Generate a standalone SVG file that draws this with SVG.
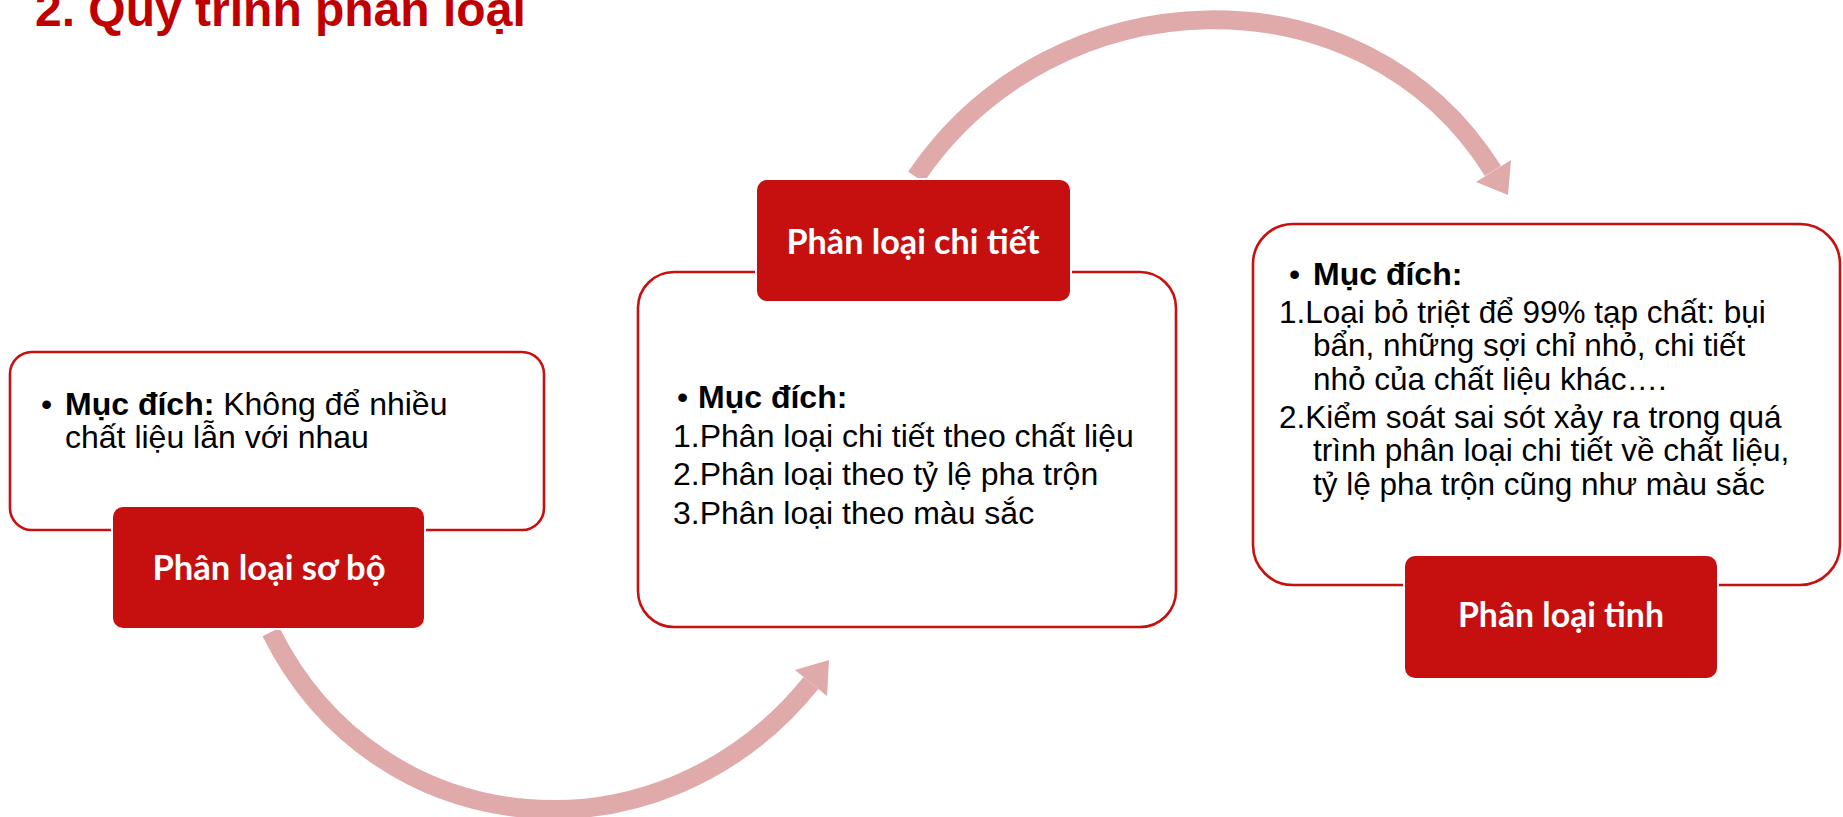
<svg xmlns="http://www.w3.org/2000/svg" width="1843" height="817" viewBox="0 0 1843 817">
<style>
.outline{fill:#FFFFFF;stroke:#C8100F;stroke-width:2.6}
.label{fill:#C5100F;stroke:#FFFFFF;stroke-width:4;paint-order:stroke fill}
.lbltxt{font-family:Lato,"Noto Sans","Liberation Sans",sans-serif;font-weight:700;font-size:35px;fill:#FFFFFF;text-anchor:middle}
.body{font-family:"Liberation Sans",Arial,sans-serif;font-size:32px;fill:#000000}
.sm{font-size:31.5px}
.b{font-weight:700}
.title{font-family:"Liberation Sans",Arial,sans-serif;font-weight:700;font-size:48px;fill:#C00000}
.arc{fill:none;stroke:#E0AAAA;stroke-width:19}
.head{fill:#E0AAAA}
</style>
<rect width="1843" height="817" fill="#FFFFFF"/>
<text class="title" x="35" y="26">2. Quy trình phân loại</text>
<g id="connectors">
<path class="arc" d="M271,632 C378,847 660,870 811,683"/>
<polygon class="head" points="829,660 795,670 827,696"/>
<path class="arc" d="M916,177 C1053,-26 1363,-37 1493,171"/>
<polygon class="head" points="1508,195 1476,182 1511,160"/>
</g>
<g id="node-so-bo">
<rect class="outline" x="10" y="352" width="534" height="178" rx="22"/>
<rect class="label" x="113" y="507" width="311" height="121" rx="10"/>
<text class="lbltxt" x="269" y="580" textLength="233" lengthAdjust="spacingAndGlyphs">Phân loại sơ bộ</text>
<text class="body" x="41" y="415">•</text>
<text class="body" x="65" y="415"><tspan class="b">Mục đích:</tspan> Không để nhiều</text>
<text class="body" x="65" y="448">chất liệu lẫn với nhau</text>
</g>
<g id="node-chi-tiet">
<rect class="outline" x="638" y="272" width="538" height="355" rx="36"/>
<rect class="label" x="757" y="180" width="313" height="121" rx="10"/>
<text class="lbltxt" x="913" y="254" textLength="253" lengthAdjust="spacingAndGlyphs">Phân loại chi tiết</text>
<text class="body" x="677" y="408">•</text>
<text class="body b" x="698" y="408">Mục đích:</text>
<text class="body" x="673" y="447">1.Phân loại chi tiết theo chất liệu</text>
<text class="body" x="673" y="485">2.Phân loại theo tỷ lệ pha trộn</text>
<text class="body" x="673" y="524">3.Phân loại theo màu sắc</text>
</g>
<g id="node-tinh">
<rect class="outline" x="1253" y="224" width="587" height="361" rx="40"/>
<rect class="label" x="1405" y="556" width="312" height="122" rx="10"/>
<text class="lbltxt" x="1561" y="627" textLength="206" lengthAdjust="spacingAndGlyphs">Phân loại tinh</text>
<text class="body" x="1289" y="285">•</text>
<text class="body b" x="1313" y="285">Mục đích:</text>
<text class="body sm" x="1279" y="323">1.Loại bỏ triệt để 99% tạp chất: bụi</text>
<text class="body sm" x="1313" y="356">bẩn, những sợi chỉ nhỏ, chi tiết</text>
<text class="body sm" x="1313" y="390">nhỏ của chất liệu khác….</text>
<text class="body sm" x="1279" y="428">2.Kiểm soát sai sót xảy ra trong quá</text>
<text class="body sm" x="1313" y="461">trình phân loại chi tiết về chất liệu,</text>
<text class="body sm" x="1313" y="495">tỷ lệ pha trộn cũng như màu sắc</text>
</g>
</svg>
